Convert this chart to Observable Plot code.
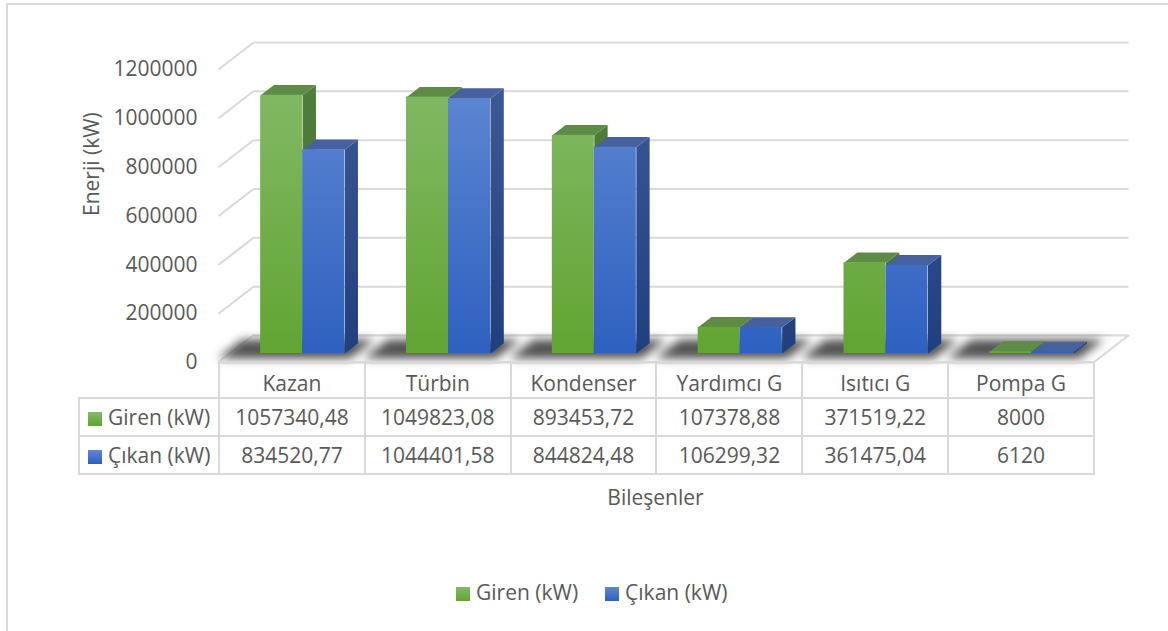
<!DOCTYPE html>
<html><head><meta charset="utf-8">
<script src="https://cdn.jsdelivr.net/npm/d3@7"></script>
<script src="https://cdn.jsdelivr.net/npm/@observablehq/plot@0.6"></script>
<style>
body{margin:0;background:#fff;}
#wrap{position:relative;width:1168px;height:631px;overflow:hidden;font-family:"Open Sans",sans-serif;color:#595959;background:#fff}
#chart{position:absolute;left:0;top:0}
#frame{position:absolute;left:6px;top:3px;width:1300px;height:800px;border:2px solid #d9d9d9;box-sizing:border-box;pointer-events:none}
#tbl{position:absolute;left:78px;top:361px;border-collapse:collapse;table-layout:fixed;font-size:21px;color:#595959;font-family:"Open Sans",sans-serif}
#tbl td{border:2px solid #d9d9d9;text-align:center;padding:0;white-space:nowrap;vertical-align:middle}
#tbl tr.head td{height:35px;padding-top:6px;box-sizing:border-box}
#tbl tr.row td{height:36px}
#tbl td.blank{border-top:none;border-left:none}
#tbl td.lab{text-align:left;padding-left:8px}
.key{display:inline-block;width:14px;height:14px;margin-right:6px;vertical-align:-1px}
#xlabel{position:absolute;left:218px;width:875px;top:483px;line-height:28px;text-align:center;font-size:21px}
#legend{position:absolute;left:456px;top:578px;line-height:28px;font-size:21px;white-space:nowrap}
#legend span.item{margin-right:27px}
</style>
</head><body>
<div id="wrap">
  <div id="chart"></div>
  <table id="tbl"></table>
  <div id="xlabel">Bileşenler</div>
  <div id="legend"></div>
  <div id="frame"></div>
</div>
<script>
// ---- data ----
const categories = ["Kazan", "Türbin", "Kondenser", "Yardımcı G", "Isıtıcı G", "Pompa G"];
const giren = [1057340.48, 1049823.08, 893453.72, 107378.88, 371519.22, 8000];
const cikan = [834520.77, 1044401.58, 844824.48, 106299.32, 361475.04, 6120];
const seriesNames = ["Giren (kW)", "Çıkan (kW)"];
const yTicks = [0, 200000, 400000, 600000, 800000, 1000000, 1200000];
const yTitle = "Enerji (kW)";

// ---- layout / style ----
const W = 1168, H = 370, mL = 218, mR = 75, mT = 69, mB = 8;
const yMax = 1200000, nCat = categories.length;
const pxX = (W - mL - mR) / nCat;       // px per category unit
const pxY = (H - mT - mB) / yMax;       // px per value unit
const DX = 35 / pxX, DY = 27 / pxY;     // full floor depth in data units
const D0 = 1 / 3, DB = 0.38;            // bar start depth and bar depth
const OFF = 30.5 / pxX, BW = 42 / pxX;  // bar offset and width within a category
const series = [giren, cikan];

function faces(s) {
  const vals = series[s];
  const base = D0 * DY;
  const front = [], side = [], top = [];
  vals.forEach((v, i) => {
    const x1 = i + D0 * DX + OFF + s * BW, x2 = x1 + BW;
    const ddx = DB * DX, ddy = DB * DY;
    front.push({x1, x2, y1: base, y2: base + v});
    const id = s + "-" + i;
    side.push({id, x: x2, y: base}, {id, x: x2, y: base + v}, {id, x: x2 + ddx, y: base + v + ddy}, {id, x: x2 + ddx, y: base + ddy});
    top.push({id, x: x1, y: base + v}, {id, x: x2, y: base + v}, {id, x: x2 + ddx, y: base + v + ddy}, {id, x: x1 + ddx, y: base + v + ddy});
  });
  return {front, side, top};
}
const fg = faces(0), fb = faces(1);

const shadow = [];
categories.forEach((c, i) => {
  const u1 = OFF - 0.25, u2 = OFF + 2 * BW + 0.08, d1 = 0.15, d2 = 0.85;
  shadow.push({id: i, x: i + u1 + d1 * DX, y: d1 * DY}, {id: i, x: i + u2 + d1 * DX, y: d1 * DY},
              {id: i, x: i + u2 + d2 * DX, y: d2 * DY}, {id: i, x: i + u1 + d2 * DX, y: d2 * DY});
});
const floor = [{x: 0, y: 0}, {x: nCat, y: 0}, {x: nCat + DX, y: DY}, {x: DX, y: DY}];

function gradientDefs() {
  const defs = d3.create("svg:defs");
  const add = (id, c1, c2) => {
    const g = defs.append("linearGradient").attr("id", id).attr("gradientUnits", "userSpaceOnUse")
      .attr("x1", 0).attr("x2", 0).attr("y1", mT).attr("y2", H - mB);
    g.append("stop").attr("offset", 0).attr("stop-color", c1);
    g.append("stop").attr("offset", 1).attr("stop-color", c2);
  };
  add("gFront", "#84ba68", "#61a431");
  add("bFront", "#6189d3", "#2c5fbf");
  add("gSide", "#527e3c", "#40702a");
  add("bSide", "#3e5b97", "#1f3e7e");
  return defs.node();
}

const plot = Plot.plot({
  width: W, height: H,
  marginLeft: mL, marginRight: mR, marginTop: mT, marginBottom: mB,
  x: {type: "linear", domain: [0, nCat], axis: null},
  y: {type: "linear", domain: [0, yMax], axis: null, label: null},
  style: {background: "transparent", fontFamily: "'Open Sans', sans-serif", fontSize: "21px", color: "#595959", overflow: "visible"},
  marks: [
    gradientDefs,
    // back wall gridlines
    Plot.link(yTicks, {x1: () => DX, x2: () => nCat + DX, y1: t => t + DY, y2: t => t + DY, stroke: "#d9d9d9", strokeWidth: 2}),
    // left wall gridlines
    Plot.link(yTicks, {x1: () => 0, x2: () => DX, y1: t => t, y2: t => t + DY, stroke: "#d9d9d9", strokeWidth: 2}),
    // floor
    Plot.line(floor, {x: "x", y: "y", fill: "#fdfdfd", stroke: "#d9d9d9", strokeWidth: 2}),
    // shadows
    Plot.line(shadow, {x: "x", y: "y", z: "id", fill: "#1a1a1a", fillOpacity: 0.75, stroke: "none", imageFilter: "blur(5px)"}),
    // green bars
    Plot.line(fg.side, {x: "x", y: "y", z: "id", fill: "url(#gSide)", stroke: "none"}),
    Plot.line(fg.top, {x: "x", y: "y", z: "id", fill: "#5e8b45", stroke: "none"}),
    Plot.rect(fg.front, {x1: "x1", x2: "x2", y1: "y1", y2: "y2", fill: "url(#gFront)"}),
    // blue bars
    Plot.line(fb.side, {x: "x", y: "y", z: "id", fill: "url(#bSide)", stroke: "none"}),
    Plot.line(fb.top, {x: "x", y: "y", z: "id", fill: "#46619e", stroke: "none"}),
    Plot.rect(fb.front, {x1: "x1", x2: "x2", y1: "y1", y2: "y2", fill: "url(#bFront)"}),
    // y axis
    Plot.axisY(yTicks, {anchor: "left", tickSize: 0, tickPadding: 21, tickFormat: d => String(d), label: null, fill: "#595959"}),
    Plot.text([yTitle], {text: d => d, frameAnchor: "left", rotate: -90, dx: -126, fill: "#595959"})
  ]
});
document.getElementById("chart").appendChild(plot);

// ---- data table ----
const keyGrad = ["linear-gradient(#84ba68,#61a431)", "linear-gradient(#6189d3,#2c5fbf)"];
const fmt = v => String(v).replace(".", ",");
const tbl = document.getElementById("tbl");
const colgroup = document.createElement("colgroup");
const c0 = document.createElement("col"); c0.style.width = "140px"; colgroup.appendChild(c0);
categories.forEach(() => { const c = document.createElement("col"); c.style.width = (pxX) + "px"; colgroup.appendChild(c); });
tbl.appendChild(colgroup);
const head = document.createElement("tr"); head.className = "head";
const blank = document.createElement("td"); blank.className = "blank"; head.appendChild(blank);
categories.forEach(c => { const td = document.createElement("td"); td.textContent = c; head.appendChild(td); });
tbl.appendChild(head);
series.forEach((vals, s) => {
  const tr = document.createElement("tr"); tr.className = "row";
  const lab = document.createElement("td"); lab.className = "lab";
  lab.innerHTML = `<span class="key" style="background:${keyGrad[s]}"></span>${seriesNames[s]}`;
  tr.appendChild(lab);
  vals.forEach(v => { const td = document.createElement("td"); td.textContent = fmt(v); tr.appendChild(td); });
  tbl.appendChild(tr);
});

// ---- legend ----
document.getElementById("legend").innerHTML = seriesNames.map((n, s) =>
  `<span class="item"><span class="key" style="background:${keyGrad[s]}"></span>${n}</span>`).join("");
</script>
</body></html>
